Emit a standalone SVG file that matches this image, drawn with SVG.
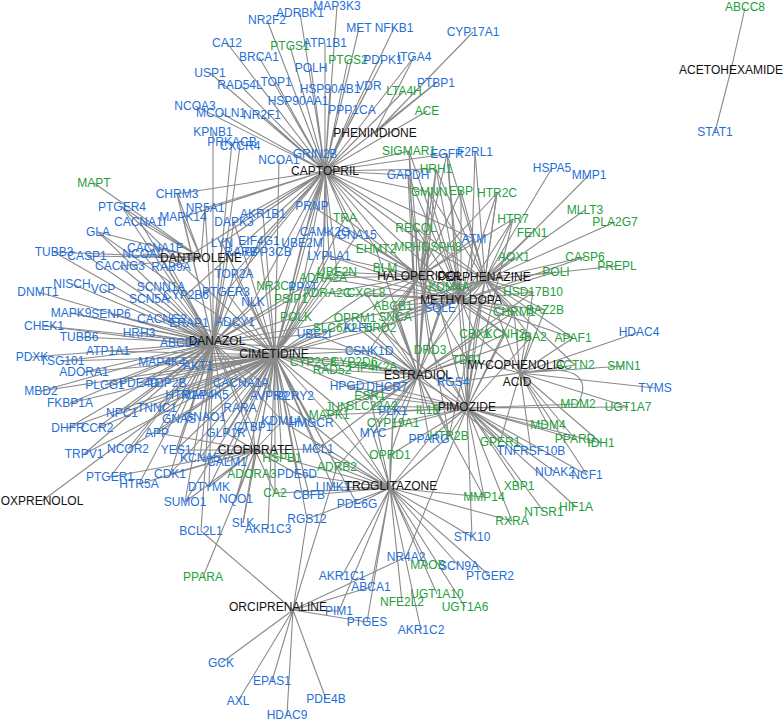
<svg xmlns="http://www.w3.org/2000/svg" width="784" height="721" viewBox="0 0 784 721">
<style>
.e{stroke:#8a8a8a;stroke-width:1.1;fill:none}
text{font-family:"Liberation Sans",Arial,sans-serif;font-size:12px;text-anchor:middle}
.b{fill:#1f6fd8}.g{fill:#22a03c}.k{fill:#111}
</style>
<rect width="784" height="721" fill="#fff"/>
<g id="connectors">
<path class="e" d="M325 171L337 6M325 171L300 13M325 171L267 20M325 171L359 28M325 171L394 28M325 171L227 43M325 171L290 46M325 171L325 43M325 171L259 57M325 171L348 60M325 171L383 60M325 171L414 57M325 171L311 68M325 171L210 73M325 171L276 82M325 171L240 85M325 171L330 89M325 171L369 86M325 171L404 91M325 171L436 83M325 171L298 101M325 171L427 111M325 171L195 106M325 171L221 113M325 171L262 115M325 171L352 110M325 171L315 154M325 171L409 151M325 171L447 154M325 171L436 169M325 171L408 175M325 171L429 192M325 171L177 194M325 171L205 208M325 171L183 217M325 171L234 222M325 171L222 243M325 171L259 241M325 171L263 214M325 171L312 206M325 171L345 218M325 171L325 232M325 171L357 235M325 171L302 243M325 171L234 274M325 171L226 292M325 171L253 302M325 171L186 295M325 171L171 267M325 171L276 286M325 171L291 299M325 171L296 317M325 171L323 278M325 171L337 272M325 171L329 256M325 171L376 249M325 171L416 228M325 171L428 247M325 171L474 239M325 171L449 287M325 171L440 308"/>
<path class="e" d="M213 343L213 132M213 343L232 142M213 343L240 146M213 343L177 194M213 343L205 208M213 343L183 217M213 343L140 222M213 343L122 207M213 343L98 232M213 343L54 252M213 343L87 256M213 343L120 266M213 343L143 254M213 343L155 248M213 343L171 267M213 343L38 292M213 343L72 284M213 343L103 289M213 343L161 287M213 343L149 299M213 343L186 295M213 343L226 292M213 343L71 313M213 343L111 314M213 343L162 319M213 343L189 323M213 343L235 322M213 343L44 326M213 343L79 337M213 343L139 333M213 343L180 343M213 343L32 357M213 343L62 361M213 343L108 351M213 343L84 372M213 343L162 362M213 343L198 366M213 343L41 391M213 343L105 385M213 343L139 383M213 343L167 383M213 343L70 403M213 343L122 413M213 343L157 408M213 343L185 395M213 343L205 395M213 343L179 419M213 343L205 417M213 343L240 408M213 343L241 383M213 343L68 428M213 343L97 428M213 343L84 454M213 343L157 433M213 343L128 449M213 343L222 243M213 343L234 274M213 343L234 222M213 343L253 302M213 343L259 241M213 343L276 286M213 343L303 287M213 343L291 299M213 343L296 317M213 343L355 318M213 343L314 334M213 343L369 351M213 343L311 423M213 343L282 421M213 343L253 427M213 343L226 433M213 343L176 450M213 343L200 458M213 343L170 474M213 343L139 484M213 343L110 477M213 343L209 487M213 343L185 502M213 343L201 531"/>
<path class="e" d="M275 355L279 160M275 355L312 206M275 355L263 214M275 355L234 222M275 355L222 243M275 355L259 241M275 355L302 243M275 355L234 274M275 355L226 292M275 355L253 302M275 355L235 322M275 355L189 323M275 355L139 333M275 355L162 362M275 355L198 366M275 355L241 383M275 355L205 395M275 355L185 395M275 355L240 408M275 355L269 396M275 355L295 396M275 355L253 427M275 355L282 421M275 355L311 423M275 355L226 433M275 355L205 417M275 355L179 419M275 355L157 408M275 355L122 413M275 355L157 433M275 355L176 450M275 355L200 458M275 355L227 462M275 355L170 474M275 355L209 487M275 355L185 502M275 355L236 499M275 355L243 523M275 355L268 529M275 355L307 519M275 355L275 493M275 355L309 495M275 355L297 474M275 355L252 474M275 355L282 458M275 355L318 449M275 355L337 467M275 355L333 487M275 355L357 504M275 355L329 415M275 355L337 407M275 355L370 396M275 355L347 386M275 355L387 387M275 355L369 351M275 355L314 334M275 355L335 328M275 355L358 328M275 355L355 318M275 355L380 328M275 355L296 317M275 355L291 299M275 355L303 287M275 355L276 286M275 355L323 278M275 355L327 293M275 355L366 293M275 355L337 272M275 355L329 256M275 355L357 235M275 355L325 232M275 355L345 218M275 355L313 362M275 355L332 370M275 355L373 367M275 355L354 362M275 355L128 449M275 355L84 454M275 355L97 428M275 355L68 428M275 355L105 385M275 355L139 383M275 355L167 383M275 355L70 403M275 355L41 391M275 355L84 372M275 355L108 351M275 355L62 361M275 355L44 326M275 355L71 313M275 355L111 314M275 355L122 207M275 355L98 232"/>
<path class="e" d="M255 450L203 577M255 450L243 523M255 450L227 462M255 450L200 458M255 450L226 433M255 450L253 427M255 450L282 458M255 450L252 474M255 450L297 474M255 450L275 493M255 450L236 499M255 450L209 487M255 450L185 502M255 450L170 474M255 450L176 450M255 450L157 433M255 450L139 484M255 450L110 477M255 450L318 449M255 450L282 421M255 450L240 408"/>
<path class="e" d="M390 488L333 487M390 488L357 504M390 488L309 495M390 488L318 449M390 488L337 467M390 488L390 455M390 488L373 433M390 488L393 423M390 488L393 411M390 488L429 439M390 488L449 436M390 488L472 537M390 488L490 576M390 488L459 566M390 488L428 565M390 488L465 607M390 488L437 594M390 488L402 602M390 488L421 630M390 488L342 576M390 488L371 587M390 488L339 611M390 488L367 622M390 488L307 519M390 488L311 423M390 488L370 396M390 488L372 406M390 488L337 407M390 488L329 415M390 488L512 521M390 488L484 497M390 488L282 421M390 488L282 458M390 488L297 474M390 488L275 493"/>
<path class="e" d="M293 610L201 531M293 610L307 519M293 610L337 467M293 610L406 557M293 610L371 587M293 610L339 611M293 610L367 622M293 610L221 663M293 610L272 681M293 610L238 701M293 610L287 715M293 610L326 699"/>
<path class="e" d="M467 408L453 382M467 408L428 410M467 408L449 436M467 408L429 439M467 408L500 442M467 408L531 451M467 408L555 472M467 408L587 475M467 408L548 425M467 408L575 439M467 408L601 443M467 408L519 486M467 408L484 497M467 408L576 507M467 408L544 512M467 408L512 521M467 408L578 404M467 408L628 407M467 408L467 360M467 408L430 350M467 408L380 328M467 408L505 334M467 408L406 557M467 408L393 423M467 408L393 411M467 408L373 433M467 408L390 455M467 408L472 537M467 408L514 312M467 408L370 396M467 408L387 387M467 408L347 386M467 408L372 406M467 408L329 415M467 408L369 351M467 408L440 308M467 408L475 334M467 408L531 337M467 408L513 219M467 408L497 193M467 408L447 154M467 408L475 152"/>
<path class="e" d="M418 375L370 396M418 375L347 386M418 375L387 387M418 375L453 382M418 375L393 411M418 375L393 423M418 375L373 433M418 375L337 407M418 375L372 406M418 375L329 415M418 375L369 351M418 375L430 350M418 375L467 360M418 375L440 308M418 375L393 306M418 375L395 317M418 375L380 328M418 375L355 318M418 375L366 293M418 375L358 328M418 375L373 367M418 375L332 370M418 375L313 362M418 375L354 362M418 375L311 423M418 375L428 410M418 375L429 439M418 375L390 455M418 375L449 436M418 375L318 449M418 375L337 467M418 375L505 334M418 375L475 334M418 375L531 337M418 375L533 292M418 375L514 312M418 375L428 247M418 375L416 228M418 375L376 249M418 375L449 287M418 375L429 192M418 375L408 175M418 375L409 151M418 375L436 169M418 375L314 334M418 375L500 442M418 375L484 497"/>
<path class="e" d="M461 300L429 192M461 300L461 191M461 300L497 193M461 300L436 169M461 300L408 175M461 300L409 151M461 300L447 154M461 300L416 228M461 300L474 239M461 300L428 247M461 300L376 249M461 300L514 257M461 300L449 287M461 300L533 292M461 300L440 308M461 300L514 312M461 300L545 310M461 300L393 306M461 300L395 317M461 300L380 328M461 300L430 350M461 300L475 334M461 300L505 334M461 300L531 337M461 300L573 338M461 300L467 360M461 300L355 318M461 300L366 293M461 300L323 278M461 300L327 293M461 300L337 272M461 300L329 256M461 300L385 268M461 300L513 219M461 300L532 233M461 300L556 272M461 300L585 257"/>
<path class="e" d="M420 276L409 151M420 276L436 169M420 276L408 175M420 276L429 192M420 276L461 191M420 276L497 193M420 276L416 228M420 276L428 247M420 276L376 249M420 276L474 239M420 276L449 287M420 276L380 328M420 276L430 350M420 276L395 317M420 276L393 306M420 276L355 318M420 276L366 293M420 276L323 278M420 276L327 293M420 276L337 272M420 276L385 268M420 276L345 218M420 276L357 235M420 276L325 232M420 276L329 256M420 276L440 308M420 276L513 219M420 276L514 312M420 276L505 334M420 276L467 360M420 276L449 436M420 276L369 351M420 276L312 206M420 276L447 154"/>
<path class="e" d="M485 280L552 168M485 280L589 175M485 280L585 210M485 280L615 222M485 280L513 219M485 280L532 233M485 280L585 257M485 280L556 272M485 280L617 266M485 280L514 257M485 280L533 292M485 280L475 152M485 280L447 154M485 280L497 193M485 280L474 239M485 280L429 192M485 280L461 191M485 280L436 169M485 280L505 334M485 280L514 312M485 280L545 310M485 280L531 337M485 280L573 338M485 280L380 328M485 280L430 350M485 280L449 287M485 280L416 228M485 280L428 247M485 280L440 308M485 280L467 360M485 280L475 334M485 280L449 436M485 280L393 306M485 280L395 317M485 280L575 365"/>
<path class="e" d="M520 373L639 332M520 373L624 366M520 373L655 388M520 373L628 407M520 373L573 338M520 373L575 365M520 373L531 337M520 373L505 334M520 373L475 334M520 373L467 360M520 373L531 451M520 373L548 425M520 373L575 439M520 373L601 443M520 373L533 292M520 373L545 310M520 373L514 312M520 373L453 382M520 373L500 442M520 373L587 475M520 373Q600 360 578 404"/>
<path class="e" d="M201 258L94 183M201 258L98 232M201 258L155 248M201 258L140 222M201 258L122 207M201 258L143 254M201 258L54 252M201 258L87 256M201 258L120 266M201 258L171 267M201 258L177 194M201 258L205 208M201 258L183 217"/>
<path class="e" d="M375 133L473 32M375 133L436 83M375 133L414 57M42 501L185 395M731 70L745 8M731 70L715 132"/>
</g>
<g id="n-MAP3K3"><text class="b" x="337" y="10">MAP3K3</text></g>
<g id="n-ADRBK1"><text class="b" x="300" y="17">ADRBK1</text></g>
<g id="n-NR2F2"><text class="b" x="267" y="24">NR2F2</text></g>
<g id="n-MET"><text class="b" x="359" y="32">MET</text></g>
<g id="n-NFKB1"><text class="b" x="394" y="32">NFKB1</text></g>
<g id="n-CYP17A1"><text class="b" x="473" y="36">CYP17A1</text></g>
<g id="n-CA12"><text class="b" x="227" y="47">CA12</text></g>
<g id="n-PTGS1"><text class="g" x="290" y="50">PTGS1</text></g>
<g id="n-ATP1B1"><text class="b" x="325" y="47">ATP1B1</text></g>
<g id="n-BRCA1"><text class="b" x="259" y="61">BRCA1</text></g>
<g id="n-PTGS2"><text class="g" x="348" y="64">PTGS2</text></g>
<g id="n-PDPK1"><text class="b" x="383" y="64">PDPK1</text></g>
<g id="n-ITGA4"><text class="b" x="414" y="61">ITGA4</text></g>
<g id="n-POLH"><text class="b" x="311" y="72">POLH</text></g>
<g id="n-USP1"><text class="b" x="210" y="77">USP1</text></g>
<g id="n-TOP1"><text class="b" x="276" y="86">TOP1</text></g>
<g id="n-RAD54L"><text class="b" x="240" y="89">RAD54L</text></g>
<g id="n-HSP90AB1"><text class="b" x="330" y="93">HSP90AB1</text></g>
<g id="n-VDR"><text class="b" x="369" y="90">VDR</text></g>
<g id="n-LTA4H"><text class="g" x="404" y="95">LTA4H</text></g>
<g id="n-PTBP1"><text class="b" x="436" y="87">PTBP1</text></g>
<g id="n-HSP90AA1"><text class="b" x="298" y="105">HSP90AA1</text></g>
<g id="n-ACE"><text class="g" x="427" y="115">ACE</text></g>
<g id="n-NCOA3"><text class="b" x="195" y="110">NCOA3</text></g>
<g id="n-MCOLN1"><text class="b" x="221" y="117">MCOLN1</text></g>
<g id="n-NR2F1"><text class="b" x="262" y="119">NR2F1</text></g>
<g id="n-PPP1CA"><text class="b" x="352" y="114">PPP1CA</text></g>
<g id="n-PHENINDIONE"><text class="k" x="375" y="137">PHENINDIONE</text></g>
<g id="n-KPNB1"><text class="b" x="213" y="136">KPNB1</text></g>
<g id="n-PRKACB"><text class="b" x="232" y="146">PRKACB</text></g>
<g id="n-CXCR4"><text class="b" x="240" y="150">CXCR4</text></g>
<g id="n-GRIN2B"><text class="b" x="315" y="158">GRIN2B</text></g>
<g id="n-NCOA1"><text class="b" x="279" y="164">NCOA1</text></g>
<g id="n-CAPTOPRIL"><text class="k" x="325" y="175">CAPTOPRIL</text></g>
<g id="n-SIGMAR1"><text class="g" x="409" y="155">SIGMAR1</text></g>
<g id="n-EGFR"><text class="b" x="447" y="158">EGFR</text></g>
<g id="n-F2RL1"><text class="b" x="475" y="156">F2RL1</text></g>
<g id="n-HRH1"><text class="g" x="436" y="173">HRH1</text></g>
<g id="n-GAPDH"><text class="b" x="408" y="179">GAPDH</text></g>
<g id="n-GMNN"><text class="g" x="429" y="196">GMNN</text></g>
<g id="n-EBP"><text class="g" x="461" y="195">EBP</text></g>
<g id="n-HTR2C"><text class="g" x="497" y="197">HTR2C</text></g>
<g id="n-HSPA5"><text class="b" x="552" y="172">HSPA5</text></g>
<g id="n-MMP1"><text class="b" x="589" y="179">MMP1</text></g>
<g id="n-MLLT3"><text class="g" x="585" y="214">MLLT3</text></g>
<g id="n-PLA2G7"><text class="g" x="615" y="226">PLA2G7</text></g>
<g id="n-HTR7"><text class="g" x="513" y="223">HTR7</text></g>
<g id="n-FEN1"><text class="g" x="532" y="237">FEN1</text></g>
<g id="n-ABCC8"><text class="g" x="745" y="11">ABCC8</text></g>
<g id="n-ACETOHEXAMIDE"><text class="k" x="731" y="74">ACETOHEXAMIDE</text></g>
<g id="n-STAT1"><text class="b" x="715" y="136">STAT1</text></g>
<g id="n-MAPT"><text class="g" x="94" y="187">MAPT</text></g>
<g id="n-CHRM3"><text class="b" x="177" y="198">CHRM3</text></g>
<g id="n-PTGER4"><text class="b" x="122" y="211">PTGER4</text></g>
<g id="n-NR5A1"><text class="b" x="205" y="212">NR5A1</text></g>
<g id="n-MAPK14"><text class="b" x="183" y="221">MAPK14</text></g>
<g id="n-CACNA1I"><text class="b" x="140" y="226">CACNA1I</text></g>
<g id="n-GLA"><text class="b" x="98" y="236">GLA</text></g>
<g id="n-AKR1B1"><text class="b" x="263" y="218">AKR1B1</text></g>
<g id="n-DAPK3"><text class="b" x="234" y="226">DAPK3</text></g>
<g id="n-PRNP"><text class="b" x="312" y="210">PRNP</text></g>
<g id="n-TRA"><text class="g" x="345" y="222">TRA</text></g>
<g id="n-CAMK2G"><text class="b" x="325" y="236">CAMK2G</text></g>
<g id="n-GNA15"><text class="b" x="357" y="239">GNA15</text></g>
<g id="n-EIF4G1"><text class="b" x="259" y="245">EIF4G1</text></g>
<g id="n-LYN"><text class="b" x="222" y="247">LYN</text></g>
<g id="n-UBE2M"><text class="b" x="302" y="247">UBE2M</text></g>
<g id="n-CACNA1F"><text class="b" x="155" y="252">CACNA1F</text></g>
<g id="n-NCOA2"><text class="b" x="143" y="258">NCOA2</text></g>
<g id="n-TUBB3"><text class="b" x="54" y="256">TUBB3</text></g>
<g id="n-CASP1"><text class="b" x="87" y="260">CASP1</text></g>
<g id="n-DANTROLENE"><text class="k" x="201" y="262">DANTROLENE</text></g>
<g id="n-RARB"><text class="b" x="241" y="256">RARB</text></g>
<g id="n-PPP3CB"><text class="b" x="268" y="256">PPP3CB</text></g>
<g id="n-CACNG3"><text class="b" x="120" y="270">CACNG3</text></g>
<g id="n-RAB9A"><text class="b" x="171" y="271">RAB9A</text></g>
<g id="n-TOP2A"><text class="b" x="234" y="278">TOP2A</text></g>
<g id="n-LYPLA1"><text class="b" x="329" y="260">LYPLA1</text></g>
<g id="n-EHMT2"><text class="g" x="376" y="253">EHMT2</text></g>
<g id="n-UBE2N"><text class="g" x="337" y="276">UBE2N</text></g>
<g id="n-ADRA2A"><text class="g" x="323" y="282">ADRA2A</text></g>
<g id="n-NR3C1"><text class="g" x="276" y="290">NR3C1</text></g>
<g id="n-PPAT"><text class="b" x="303" y="291">PPAT</text></g>
<g id="n-DNMT1"><text class="b" x="38" y="296">DNMT1</text></g>
<g id="n-NISCH"><text class="b" x="72" y="288">NISCH</text></g>
<g id="n-VCP"><text class="b" x="103" y="293">VCP</text></g>
<g id="n-SCNN1A"><text class="b" x="161" y="291">SCNN1A</text></g>
<g id="n-SCN5A"><text class="b" x="149" y="303">SCN5A</text></g>
<g id="n-CYP2B6"><text class="b" x="186" y="299">CYP2B6</text></g>
<g id="n-PTGER3"><text class="b" x="226" y="296">PTGER3</text></g>
<g id="n-NLK"><text class="b" x="253" y="306">NLK</text></g>
<g id="n-PSIP1"><text class="g" x="291" y="303">PSIP1</text></g>
<g id="n-ADRA2C"><text class="g" x="327" y="297">ADRA2C</text></g>
<g id="n-CXCL8"><text class="g" x="366" y="297">CXCL8</text></g>
<g id="n-POLK"><text class="g" x="296" y="321">POLK</text></g>
<g id="n-MAPK9"><text class="b" x="71" y="317">MAPK9</text></g>
<g id="n-SENP6"><text class="b" x="111" y="318">SENP6</text></g>
<g id="n-CACNG2"><text class="b" x="162" y="323">CACNG2</text></g>
<g id="n-ERAP1"><text class="b" x="189" y="327">ERAP1</text></g>
<g id="n-ADCY1"><text class="b" x="235" y="326">ADCY1</text></g>
<g id="n-CHEK1"><text class="b" x="44" y="330">CHEK1</text></g>
<g id="n-TUBB6"><text class="b" x="79" y="341">TUBB6</text></g>
<g id="n-HRH3"><text class="b" x="139" y="337">HRH3</text></g>
<g id="n-ABCD3"><text class="b" x="180" y="347">ABCD3</text></g>
<g id="n-DANAZOL"><text class="k" x="217" y="345">DANAZOL</text></g>
<g id="n-UBE2I"><text class="b" x="314" y="338">UBE2I</text></g>
<g id="n-SLC6A2"><text class="g" x="335" y="332">SLC6A2</text></g>
<g id="n-KLF5"><text class="b" x="358" y="332">KLF5</text></g>
<g id="n-OPRM1"><text class="g" x="355" y="322">OPRM1</text></g>
<g id="n-CIMETIDINE"><text class="k" x="274" y="358">CIMETIDINE</text></g>
<g id="n-CSNK1D"><text class="b" x="369" y="355">CSNK1D</text></g>
<g id="n-PDXK"><text class="b" x="32" y="361">PDXK</text></g>
<g id="n-TSG101"><text class="b" x="62" y="365">TSG101</text></g>
<g id="n-ATP1A1"><text class="b" x="108" y="355">ATP1A1</text></g>
<g id="n-MAP4K4"><text class="b" x="162" y="366">MAP4K4</text></g>
<g id="n-AKT1"><text class="b" x="198" y="370">AKT1</text></g>
<g id="n-ADORA1"><text class="b" x="84" y="376">ADORA1</text></g>
<g id="n-MBD2"><text class="b" x="41" y="395">MBD2</text></g>
<g id="n-PLCG1"><text class="b" x="105" y="389">PLCG1</text></g>
<g id="n-PDE4D"><text class="b" x="139" y="387">PDE4D</text></g>
<g id="n-TOP2B"><text class="b" x="167" y="387">TOP2B</text></g>
<g id="n-CACNA1A"><text class="b" x="241" y="387">CACNA1A</text></g>
<g id="n-HTR1A"><text class="b" x="185" y="399">HTR1A</text></g>
<g id="n-MAP4K5"><text class="b" x="205" y="399">MAP4K5</text></g>
<g id="n-AVPR2"><text class="b" x="269" y="400">AVPR2</text></g>
<g id="n-P2RY2"><text class="b" x="295" y="400">P2RY2</text></g>
<g id="n-FKBP1A"><text class="b" x="70" y="407">FKBP1A</text></g>
<g id="n-TNNC1"><text class="b" x="157" y="412">TNNC1</text></g>
<g id="n-RARA"><text class="b" x="240" y="412">RARA</text></g>
<g id="n-NPC1"><text class="b" x="122" y="417">NPC1</text></g>
<g id="n-GNAS"><text class="b" x="179" y="423">GNAS</text></g>
<g id="n-GNAO1"><text class="b" x="205" y="421">GNAO1</text></g>
<g id="n-CTBP1"><text class="b" x="253" y="431">CTBP1</text></g>
<g id="n-KDM1A"><text class="b" x="282" y="425">KDM1A</text></g>
<g id="n-HMGCR"><text class="b" x="311" y="427">HMGCR</text></g>
<g id="n-DHFR"><text class="b" x="68" y="432">DHFR</text></g>
<g id="n-CCR2"><text class="b" x="97" y="432">CCR2</text></g>
<g id="n-APP"><text class="b" x="157" y="437">APP</text></g>
<g id="n-GLP1R"><text class="b" x="226" y="437">GLP1R</text></g>
<g id="n-MCL1"><text class="b" x="318" y="453">MCL1</text></g>
<g id="n-TRPV1"><text class="b" x="84" y="458">TRPV1</text></g>
<g id="n-NCOR2"><text class="b" x="128" y="453">NCOR2</text></g>
<g id="n-YES1"><text class="b" x="176" y="454">YES1</text></g>
<g id="n-CLOFIBRATE"><text class="k" x="255" y="454">CLOFIBRATE</text></g>
<g id="n-KCNA5"><text class="b" x="200" y="462">KCNA5</text></g>
<g id="n-CALM1"><text class="b" x="227" y="466">CALM1</text></g>
<g id="n-HSPB1"><text class="g" x="282" y="462">HSPB1</text></g>
<g id="n-ADRB2"><text class="g" x="337" y="471">ADRB2</text></g>
<g id="n-ADORA3"><text class="g" x="252" y="478">ADORA3</text></g>
<g id="n-PDE6D"><text class="b" x="297" y="478">PDE6D</text></g>
<g id="n-CDK1"><text class="b" x="170" y="478">CDK1</text></g>
<g id="n-PTGER1"><text class="b" x="110" y="481">PTGER1</text></g>
<g id="n-HTR5A"><text class="b" x="139" y="488">HTR5A</text></g>
<g id="n-DTYMK"><text class="b" x="209" y="491">DTYMK</text></g>
<g id="n-LIMK1"><text class="b" x="333" y="491">LIMK1</text></g>
<g id="n-TROGLITAZONE"><text class="k" x="391" y="490">TROGLITAZONE</text></g>
<g id="n-CA2"><text class="g" x="275" y="497">CA2</text></g>
<g id="n-CBFB"><text class="b" x="309" y="499">CBFB</text></g>
<g id="n-NQO1"><text class="b" x="236" y="503">NQO1</text></g>
<g id="n-OXPRENOLOL"><text class="k" x="42" y="505">OXPRENOLOL</text></g>
<g id="n-SUMO1"><text class="b" x="185" y="506">SUMO1</text></g>
<g id="n-PDE6G"><text class="b" x="357" y="508">PDE6G</text></g>
<g id="n-RGS12"><text class="b" x="307" y="523">RGS12</text></g>
<g id="n-SLK"><text class="b" x="243" y="527">SLK</text></g>
<g id="n-AKR1C3"><text class="b" x="268" y="533">AKR1C3</text></g>
<g id="n-BCL2L1"><text class="b" x="201" y="535">BCL2L1</text></g>
<g id="n-RECQL"><text class="g" x="416" y="232">RECQL</text></g>
<g id="n-ATM"><text class="b" x="474" y="243">ATM</text></g>
<g id="n-MPHOSPH8"><text class="g" x="428" y="251">MPHOSPH8</text></g>
<g id="n-AOX1"><text class="g" x="514" y="261">AOX1</text></g>
<g id="n-CASP6"><text class="g" x="585" y="261">CASP6</text></g>
<g id="n-POLI"><text class="g" x="556" y="276">POLI</text></g>
<g id="n-PREPL"><text class="g" x="617" y="270">PREPL</text></g>
<g id="n-HALOPERIDOL"><text class="k" x="420" y="280">HALOPERIDOL</text></g>
<g id="n-PERPHENAZINE"><text class="k" x="484" y="281">PERPHENAZINE</text></g>
<g id="n-BLM"><text class="g" x="385" y="272">BLM</text></g>
<g id="n-KDM4A"><text class="g" x="449" y="291">KDM4A</text></g>
<g id="n-HSD17B10"><text class="g" x="533" y="296">HSD17B10</text></g>
<g id="n-METHYLDOPA"><text class="k" x="461" y="304">METHYLDOPA</text></g>
<g id="n-SQLE"><text class="b" x="440" y="312">SQLE</text></g>
<g id="n-ABCB1"><text class="g" x="393" y="310">ABCB1</text></g>
<g id="n-SNCA"><text class="g" x="395" y="321">SNCA</text></g>
<g id="n-CHRM1"><text class="g" x="514" y="316">CHRM1</text></g>
<g id="n-BAZ2B"><text class="g" x="545" y="314">BAZ2B</text></g>
<g id="n-DRD2"><text class="g" x="380" y="332">DRD2</text></g>
<g id="n-CBX1"><text class="g" x="475" y="338">CBX1</text></g>
<g id="n-KCNH2"><text class="g" x="505" y="338">KCNH2</text></g>
<g id="n-UBA2"><text class="g" x="531" y="341">UBA2</text></g>
<g id="n-APAF1"><text class="g" x="573" y="342">APAF1</text></g>
<g id="n-HDAC4"><text class="b" x="639" y="336">HDAC4</text></g>
<g id="n-DRD3"><text class="g" x="430" y="354">DRD3</text></g>
<g id="n-TDP1"><text class="g" x="467" y="364">TDP1</text></g>
<g id="n-MYCOPHENOLIC_ACID"><text class="k" x="516" y="369">MYCOPHENOLIC</text><text class="k" x="517" y="386">ACID</text></g>
<g id="n-ACTN2"><text class="g" x="575" y="369">ACTN2</text></g>
<g id="n-SMN1"><text class="g" x="624" y="370">SMN1</text></g>
<g id="n-CYP2C8"><text class="g" x="313" y="366">CYP2C8</text></g>
<g id="n-CYP2D6"><text class="g" x="354" y="366">CYP2D6</text></g>
<g id="n-RAD52"><text class="g" x="332" y="374">RAD52</text></g>
<g id="n-PIP4K2A"><text class="g" x="373" y="371">PIP4K2A</text></g>
<g id="n-ESTRADIOL"><text class="k" x="418" y="379">ESTRADIOL</text></g>
<g id="n-RGS4"><text class="b" x="453" y="386">RGS4</text></g>
<g id="n-HPGD"><text class="b" x="347" y="390">HPGD</text></g>
<g id="n-DHCR7"><text class="b" x="387" y="391">DHCR7</text></g>
<g id="n-TYMS"><text class="b" x="655" y="392">TYMS</text></g>
<g id="n-ESR1"><text class="g" x="370" y="400">ESR1</text></g>
<g id="n-MDM2"><text class="g" x="578" y="408">MDM2</text></g>
<g id="n-UGT1A7"><text class="g" x="628" y="411">UGT1A7</text></g>
<g id="n-JUN"><text class="g" x="337" y="411">JUN</text></g>
<g id="n-SLC22A2"><text class="g" x="372" y="410">SLC22A2</text></g>
<g id="n-PIMOZIDE"><text class="k" x="467" y="411">PIMOZIDE</text></g>
<g id="n-IL1B"><text class="g" x="428" y="414">IL1B</text></g>
<g id="n-PLK1"><text class="b" x="393" y="415">PLK1</text></g>
<g id="n-MAPK1"><text class="g" x="329" y="419">MAPK1</text></g>
<g id="n-CYP19A1"><text class="g" x="393" y="427">CYP19A1</text></g>
<g id="n-MDM4"><text class="g" x="548" y="429">MDM4</text></g>
<g id="n-MYC"><text class="b" x="373" y="437">MYC</text></g>
<g id="n-HTR2B"><text class="g" x="449" y="440">HTR2B</text></g>
<g id="n-PPARG"><text class="b" x="429" y="443">PPARG</text></g>
<g id="n-PPARD"><text class="g" x="575" y="443">PPARD</text></g>
<g id="n-IDH1"><text class="g" x="601" y="447">IDH1</text></g>
<g id="n-GPER1"><text class="g" x="500" y="446">GPER1</text></g>
<g id="n-TNFRSF10B"><text class="b" x="531" y="455">TNFRSF10B</text></g>
<g id="n-OPRD1"><text class="g" x="390" y="459">OPRD1</text></g>
<g id="n-NUAK2"><text class="b" x="555" y="476">NUAK2</text></g>
<g id="n-NCF1"><text class="b" x="587" y="479">NCF1</text></g>
<g id="n-XBP1"><text class="g" x="519" y="490">XBP1</text></g>
<g id="n-MMP14"><text class="g" x="484" y="501">MMP14</text></g>
<g id="n-HIF1A"><text class="g" x="576" y="511">HIF1A</text></g>
<g id="n-NTSR1"><text class="g" x="544" y="516">NTSR1</text></g>
<g id="n-RXRA"><text class="g" x="512" y="525">RXRA</text></g>
<g id="n-STK10"><text class="b" x="472" y="541">STK10</text></g>
<g id="n-NR4A2"><text class="b" x="406" y="561">NR4A2</text></g>
<g id="n-MAOB"><text class="g" x="428" y="569">MAOB</text></g>
<g id="n-SCN9A"><text class="b" x="459" y="570">SCN9A</text></g>
<g id="n-PTGER2"><text class="b" x="490" y="580">PTGER2</text></g>
<g id="n-AKR1C1"><text class="b" x="342" y="580">AKR1C1</text></g>
<g id="n-PPARA"><text class="g" x="203" y="581">PPARA</text></g>
<g id="n-ABCA1"><text class="b" x="371" y="591">ABCA1</text></g>
<g id="n-UGT1A10"><text class="g" x="437" y="598">UGT1A10</text></g>
<g id="n-NFE2L2"><text class="g" x="402" y="606">NFE2L2</text></g>
<g id="n-UGT1A6"><text class="g" x="465" y="611">UGT1A6</text></g>
<g id="n-ORCIPRENALINE"><text class="k" x="278" y="611">ORCIPRENALINE</text></g>
<g id="n-PIM1"><text class="b" x="339" y="615">PIM1</text></g>
<g id="n-PTGES"><text class="b" x="367" y="626">PTGES</text></g>
<g id="n-AKR1C2"><text class="b" x="421" y="634">AKR1C2</text></g>
<g id="n-GCK"><text class="b" x="221" y="667">GCK</text></g>
<g id="n-EPAS1"><text class="b" x="272" y="685">EPAS1</text></g>
<g id="n-PDE4B"><text class="b" x="326" y="703">PDE4B</text></g>
<g id="n-AXL"><text class="b" x="238" y="705">AXL</text></g>
<g id="n-HDAC9"><text class="b" x="287" y="719">HDAC9</text></g>
</svg>
